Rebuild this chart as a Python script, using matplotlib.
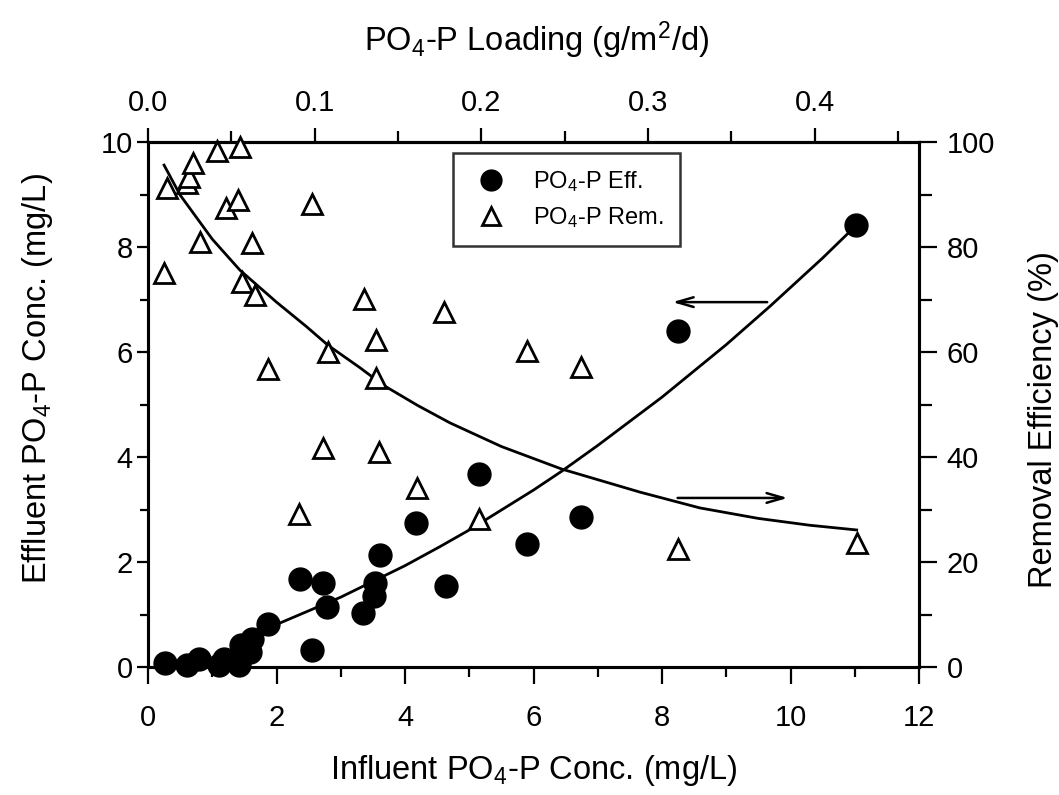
import matplotlib
matplotlib.use("Agg")
import matplotlib.pyplot as plt
from matplotlib.ticker import MultipleLocator
from matplotlib.lines import Line2D

plt.rcParams['font.family'] = ['Liberation Sans', 'DejaVu Sans']
plt.rcParams['mathtext.fontset'] = 'custom'
plt.rcParams['mathtext.rm'] = 'Liberation Sans'
plt.rcParams['mathtext.it'] = 'Liberation Sans'

# ---- data ----
eff_x = [0.26, 0.60, 0.80, 1.11, 1.19, 1.42, 1.45, 1.58, 1.62, 1.86, 2.37, 2.72, 2.78,
         2.55, 3.34, 3.53, 3.52, 3.61, 4.17, 4.64, 5.15, 5.90, 6.74, 8.25, 11.02]
eff_y = [0.07, 0.04, 0.15, 0.03, 0.15, 0.03, 0.41, 0.28, 0.53, 0.82, 1.68, 1.60, 1.14,
         0.32, 1.03, 1.60, 1.35, 2.13, 2.74, 1.54, 3.68, 2.34, 2.86, 6.40, 8.42]

rem_x = [0.25, 0.30, 0.60, 0.64, 0.70, 1.07, 1.43, 1.22, 1.40, 2.56, 0.81, 1.62, 1.46,
         1.66, 3.36, 4.61, 3.55, 2.80, 1.87, 3.55, 2.73, 3.60, 2.35, 4.19, 5.15, 5.90,
         6.74, 8.25, 11.03]
rem_y = [75.0, 91.2, 92.2, 93.3, 96.0, 98.2, 99.1, 87.4, 89.0, 88.2, 81.0, 80.7, 73.4,
         70.9, 70.1, 67.6, 62.3, 60.0, 56.8, 55.0, 41.7, 41.0, 29.1, 34.1, 28.2, 60.2,
         57.1, 22.5, 23.6]

# fitted trend curves
eff_fit_x = [1.5, 2.0, 3.0, 4.0, 4.54, 5.0, 6.0, 6.44, 7.0, 8.0, 9.0, 9.68, 10.5, 11.03]
eff_fit_y = [0.57, 0.81, 1.33, 1.93, 2.29, 2.61, 3.37, 3.73, 4.22, 5.14, 6.14, 6.87, 7.79, 8.42]

rem_fit_x = [0.25, 0.50, 1.0, 1.43, 2.0, 2.47, 2.80, 3.30, 3.66, 4.20, 4.70, 5.5, 6.44,
             7.66, 8.59, 9.5, 10.3, 11.03]
rem_fit_y = [95.6, 89.9, 81.5, 75.6, 69.5, 64.8, 61.3, 57.0, 53.7, 49.8, 46.5, 42.0, 37.7,
             33.3, 30.3, 28.3, 27.0, 26.1]

LOADING_PER_CONC = 0.4627 / 12.0

# arrow annotations (data coordinates)
arrow_left = ((9.68, 6.95), (8.12, 6.95))     # on left axis
arrow_right = ((8.2, 32.2), (10.0, 32.2))     # on right axis

TICK_FS = 21
LABEL_FS = 23.5

fig = plt.figure(figsize=(10.59, 7.95), dpi=100)
ax = fig.add_axes([148/1059, 1 - 667/795, (919-148)/1059, (667-142)/795])
ax2 = ax.twinx()

ax.set_xlim(0, 12)
ax.set_ylim(0, 10)
ax2.set_ylim(0, 100)

ax.plot(eff_fit_x, eff_fit_y, color='black', lw=2.0, zorder=2)
ax.plot(eff_x, eff_y, 'o', color='black', markersize=16.5, zorder=3, clip_on=False)

ax2.plot(rem_fit_x, rem_fit_y, color='black', lw=2.0, zorder=2)
ax2.plot(rem_x, rem_y, '^', markerfacecolor='white', markeredgecolor='black',
         markeredgewidth=2.0, markersize=15, zorder=3, clip_on=False)

ax.annotate('', xy=arrow_left[1], xytext=arrow_left[0],
            arrowprops=dict(arrowstyle='->,head_length=1.2,head_width=0.35', color='black', lw=1.8))
ax2.annotate('', xy=arrow_right[1], xytext=arrow_right[0],
             arrowprops=dict(arrowstyle='->,head_length=1.2,head_width=0.35', color='black', lw=1.8))

# ticks
ax.xaxis.set_major_locator(MultipleLocator(2))
ax.xaxis.set_minor_locator(MultipleLocator(1))
ax.yaxis.set_major_locator(MultipleLocator(2))
ax.yaxis.set_minor_locator(MultipleLocator(1))
ax2.yaxis.set_major_locator(MultipleLocator(20))
ax2.yaxis.set_minor_locator(MultipleLocator(10))

for a in (ax, ax2):
    for s in a.spines.values():
        s.set_linewidth(2.2)

ax.tick_params(axis='x', which='major', direction='out', length=12, width=1.6,
               labelsize=TICK_FS, pad=15)
ax.tick_params(axis='x', which='minor', direction='out', length=7, width=1.6)
ax.tick_params(axis='y', which='major', direction='out', length=8, width=1.6,
               labelsize=TICK_FS, pad=3, right=False)
ax.tick_params(axis='y', which='minor', direction='out', length=6, width=1.6, right=False)
ax2.tick_params(axis='y', which='major', direction='out', length=13, width=1.6,
                labelsize=TICK_FS, pad=7, left=False)
ax2.tick_params(axis='y', which='minor', direction='out', length=9, width=1.6, left=False)

secx = ax.secondary_xaxis('top', functions=(lambda c: c * LOADING_PER_CONC,
                                            lambda l: l / LOADING_PER_CONC))
secx.xaxis.set_major_locator(MultipleLocator(0.1))
secx.xaxis.set_minor_locator(MultipleLocator(0.05))
secx.xaxis.set_major_formatter(plt.FuncFormatter(lambda v, p: f"{v:.1f}"))
secx.tick_params(which='major', direction='out', length=10, width=1.6,
                 labelsize=TICK_FS, pad=8)
secx.tick_params(which='minor', direction='out', length=8, width=1.6)
secx.spines['top'].set_linewidth(2.2)

ax.set_xlabel('Influent PO$_4$-P Conc. (mg/L)', fontsize=LABEL_FS)
ax.xaxis.set_label_coords(0.5, (667 - 770) / 525, transform=ax.transAxes)
ax.xaxis.label.set_va('center')

ax.set_ylabel('Effluent PO$_4$-P Conc. (mg/L)', fontsize=LABEL_FS)
ax.yaxis.set_label_coords((38 - 148) / 771, (667 - 378) / 525, transform=ax.transAxes)
ax.yaxis.label.set_va('center')

ax2.set_ylabel('Removal Efficiency (%)', fontsize=LABEL_FS)
ax2.yaxis.set_label_coords((1043 - 148) / 771, (667 - 420) / 525, transform=ax2.transAxes)
ax2.yaxis.label.set_va('center')

fig.text(537 / 1059, 1 - 40 / 795, 'PO$_4$-P Loading (g/m$^2$/d)', fontsize=LABEL_FS,
         ha='center', va='center')

handles = [Line2D([], [], marker='o', color='black', linestyle='none', markersize=15),
           Line2D([], [], marker='^', markerfacecolor='white', markeredgecolor='black',
                  markeredgewidth=2.0, linestyle='none', markersize=13)]
leg = ax.legend(handles, ['PO$_4$-P Eff.', 'PO$_4$-P Rem.'], loc='upper left',
                bbox_to_anchor=((453-148)/771, (667-153)/525), fontsize=17,
                frameon=True, fancybox=False, edgecolor='black', borderpad=0.7,
                handletextpad=0.9, labelspacing=0.45, borderaxespad=0,
                handlelength=1.8)
leg.get_frame().set_linewidth(1.8)
leg.set_zorder(5)

fig.savefig('out.png', dpi=100)
